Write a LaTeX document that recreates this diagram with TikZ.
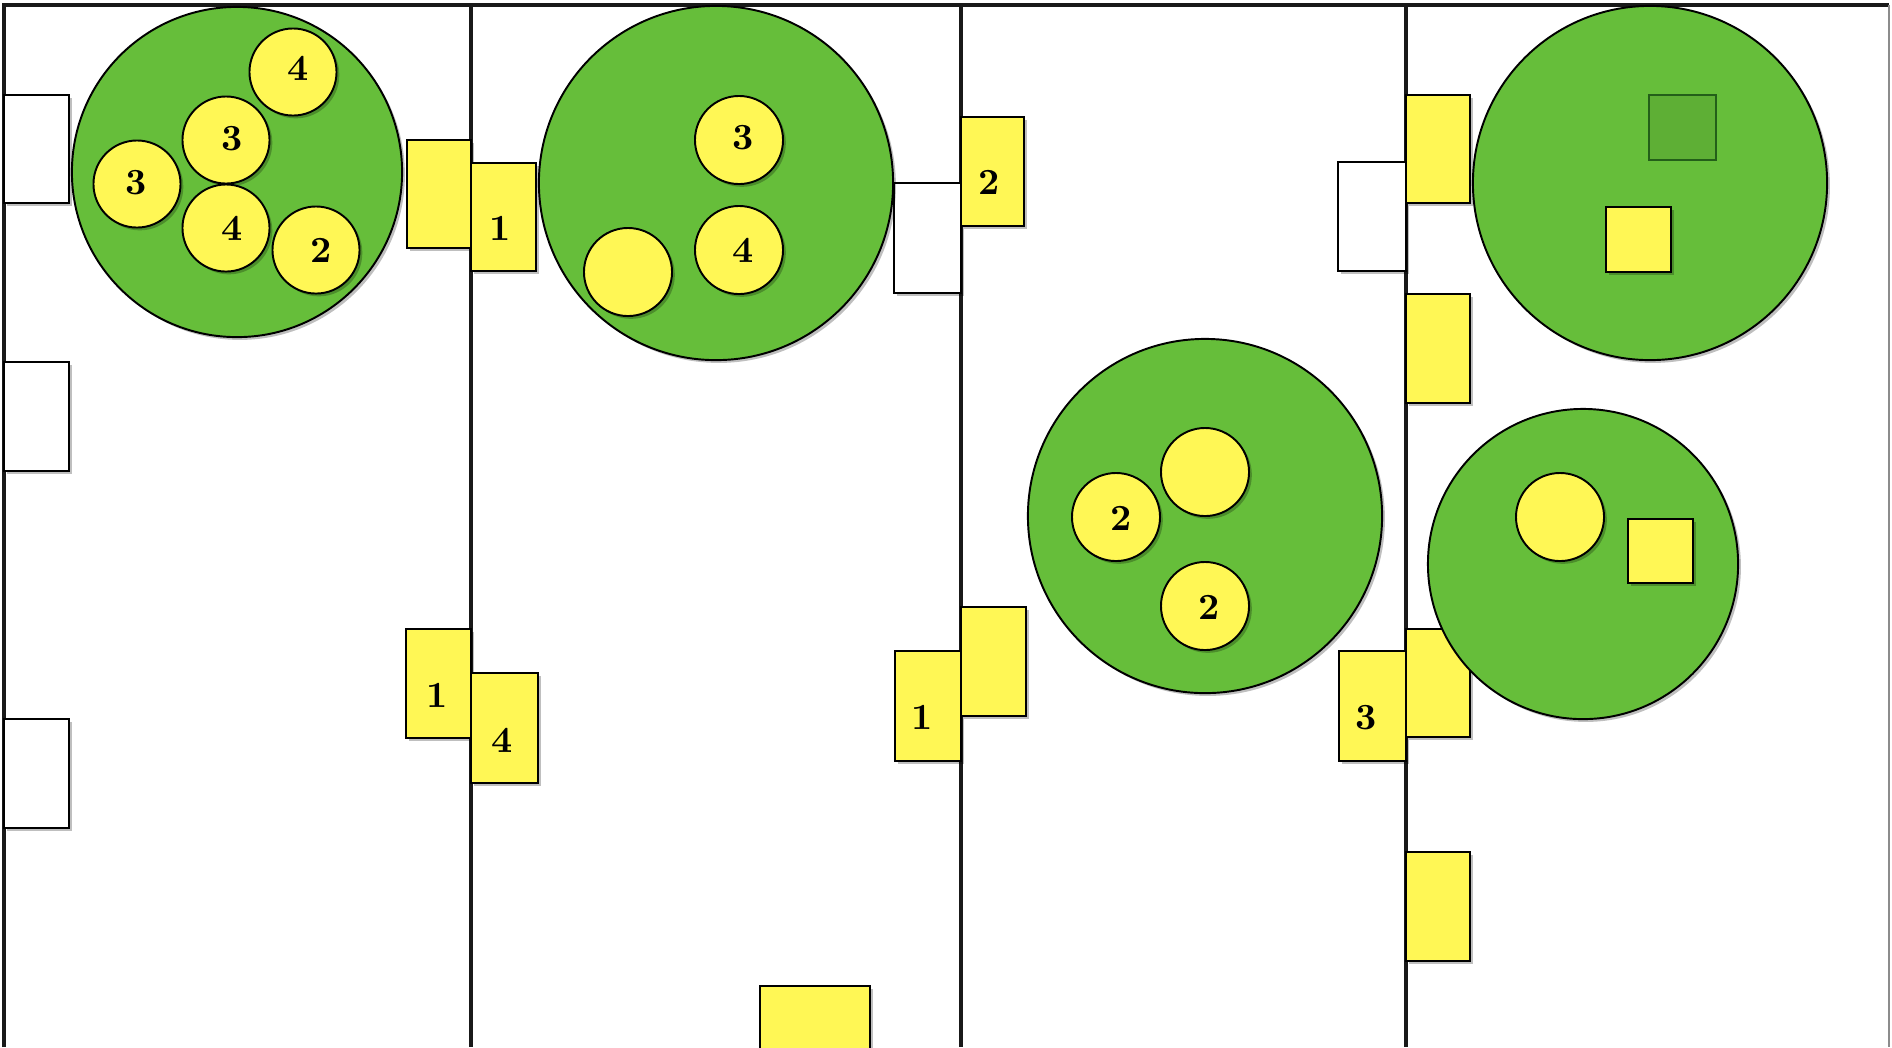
\documentclass[tikz,border=0pt]{standalone}
\usetikzlibrary{shadows}
\definecolor{leaf}{RGB}{102,190,58}
\definecolor{leafdark}{RGB}{35,95,25}
\definecolor{sun}{RGB}{255,247,85}
\tikzset{
  sh/.style={drop shadow={shadow xshift=0.8pt,shadow yshift=-0.8pt,opacity=0.25,fill=black}},
  wall/.style={line width=0.95pt,draw=black!90},
  ybox/.style={sh,fill=sun,draw=black,line width=0.55pt},
  wbox/.style={sh,fill=white,draw=black,line width=0.55pt},
  big/.style={sh,fill=leaf,draw=black,line width=0.55pt},
  ball/.style={sh,fill=sun,draw=black,line width=0.55pt},
  lbl/.style={font=\fontsize{10.5}{12}\selectfont\bfseries,inner sep=0pt}
}
\begin{document}
\begin{tikzpicture}[x=0.01cm,y=-0.01cm]
\useasboundingbox[fill=white] (0,0) rectangle (1892,1047);
% frame and walls
\draw[wall] (4,1047) -- (4,5) -- (1889,5);
\draw[line width=0.4pt,draw=black!45] (1889,5) -- (1889,1047);
\draw[wall] (471,5) -- (471,1047);
\draw[wall] (961,5) -- (961,1047);
\draw[wall] (1406,5) -- (1406,1047);

% column 1 white boxes
\draw[wbox] (4,95) rectangle (69,203);
\draw[wbox] (4,362) rectangle (69,471);
\draw[wbox] (4,719) rectangle (69,828);

% yellow boxes near wall 1
\draw[ybox] (407,140) rectangle (471,248);
\draw[ybox] (471,163) rectangle (536,271);
\node[lbl] (t1a) at (500,228) {1};
\draw[ybox] (406,629) rectangle (471,738);
\node[lbl] (t1b) at (437,695) {1};
\draw[ybox] (471,673) rectangle (538,783);
\node[lbl] (t4a) at (502,740) {4};

% column 2 right side
\draw[wbox] (894,183) rectangle (961,293);
\draw[ybox] (961,117) rectangle (1024,226);
\node[lbl] (t2a) at (989,182) {2};
\draw[ybox] (895,651) rectangle (961,761);
\node[lbl] (t1c) at (922,717) {1};
\draw[ybox] (961,607) rectangle (1026,716);
\draw[ybox] (760,986) rectangle (870,1060);

% column 3 right side
\draw[wbox] (1338,162) rectangle (1406,271);
\draw[ybox] (1339,651) rectangle (1406,761);
\node[lbl] (t3a) at (1366,718) {3};

% column 4 left side
\draw[ybox] (1406,95) rectangle (1470,203);
\draw[ybox] (1406,294) rectangle (1470,403);
\draw[ybox] (1406,629) rectangle (1470,737);
\draw[ybox] (1406,852) rectangle (1470,961);

% big circle 1
\draw[big] (237,172) circle[radius=1.65cm];
\draw[ball] (293,72) circle[radius=0.435cm];
\draw[ball] (226,140) circle[radius=0.435cm];
\draw[ball] (137,184) circle[radius=0.435cm];
\draw[ball] (226,228) circle[radius=0.435cm];
\draw[ball] (316,250) circle[radius=0.435cm];
\node[lbl] (c1a) at (298,68) {4};
\node[lbl] (c1b) at (232,139) {3};
\node[lbl] (c1c) at (136,183) {3};
\node[lbl] (c1d) at (232,228) {4};
\node[lbl] (c1e) at (321,250) {2};

% big circle 2
\draw[big] (716,183) circle[radius=1.77cm];
\draw[ball] (739,140) circle[radius=0.44cm];
\draw[ball] (739,250) circle[radius=0.44cm];
\draw[ball] (628,272) circle[radius=0.44cm];
\node[lbl] (c2a) at (743,138) {3};
\node[lbl] (c2b) at (743,250) {4};

% big circle 3
\draw[big] (1205,516) circle[radius=1.77cm];
\draw[ball] (1116,517) circle[radius=0.44cm];
\draw[ball] (1205,472) circle[radius=0.44cm];
\draw[ball] (1205,606) circle[radius=0.44cm];
\node[lbl] (c3a) at (1121,518) {2};
\node[lbl] (c3b) at (1209,607) {2};

% big circle 4
\draw[big] (1650,183) circle[radius=1.77cm];
\draw[fill=leaf!92!black,draw=leafdark,line width=0.8pt] (1649,95) rectangle (1716,160);
\draw[ybox] (1606,207) rectangle (1671,272);

% big circle 5
\draw[big] (1583,564) circle[radius=1.55cm];
\draw[ball] (1560,517) circle[radius=0.44cm];
\draw[ybox] (1628,519) rectangle (1693,583);
\end{tikzpicture}
\end{document}
